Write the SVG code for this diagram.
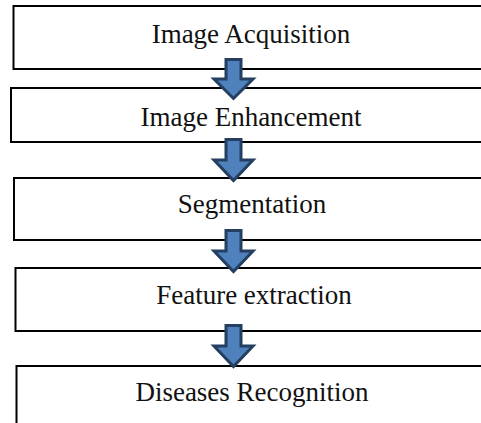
<svg xmlns="http://www.w3.org/2000/svg" width="481" height="423" viewBox="0 0 481 423">
  <style>
    .box { fill: #ffffff; stroke: #000000; stroke-width: 2; }
    .label { font-family: "Liberation Serif", "Times New Roman", serif; font-size: 27px; fill: #111111; text-anchor: middle; }
    .arrow { fill: #4f81bd; stroke: #243f60; stroke-width: 3; stroke-linejoin: miter; }
  </style>
  <rect x="0" y="0" width="481" height="423" fill="#ffffff"/>
  <g id="node-acquisition">
    <rect class="box" x="13.5" y="6" width="480" height="63"/>
    <text class="label" x="251" y="43">Image Acquisition</text>
  </g>
  <g id="node-enhancement">
    <rect class="box" x="11" y="88" width="480" height="54"/>
    <text class="label" x="251" y="126">Image Enhancement</text>
  </g>
  <g id="node-segmentation">
    <rect class="box" x="14" y="178" width="480" height="62"/>
    <text class="label" x="252" y="213">Segmentation</text>
  </g>
  <g id="node-feature">
    <rect class="box" x="15.5" y="268" width="480" height="63"/>
    <text class="label" x="254" y="304">Feature extraction</text>
  </g>
  <g id="node-recognition">
    <rect class="box" x="16.5" y="366" width="480" height="80"/>
    <text class="label" x="252" y="401">Diseases Recognition</text>
  </g>
  <g id="connectors">
    <path class="arrow" d="M226,59.5 H241 V79 H253 L233.5,98.5 L214,79 H226 Z"/>
    <path class="arrow" d="M226,139.5 H241 V160 H253 L233.5,180.5 L214,160 H226 Z"/>
    <path class="arrow" d="M226,230.5 H241 V251 H253 L233.5,271.5 L214,251 H226 Z"/>
    <path class="arrow" d="M226,325.5 H241 V346 H253 L233.5,366.5 L214,346 H226 Z"/>
  </g>
</svg>
